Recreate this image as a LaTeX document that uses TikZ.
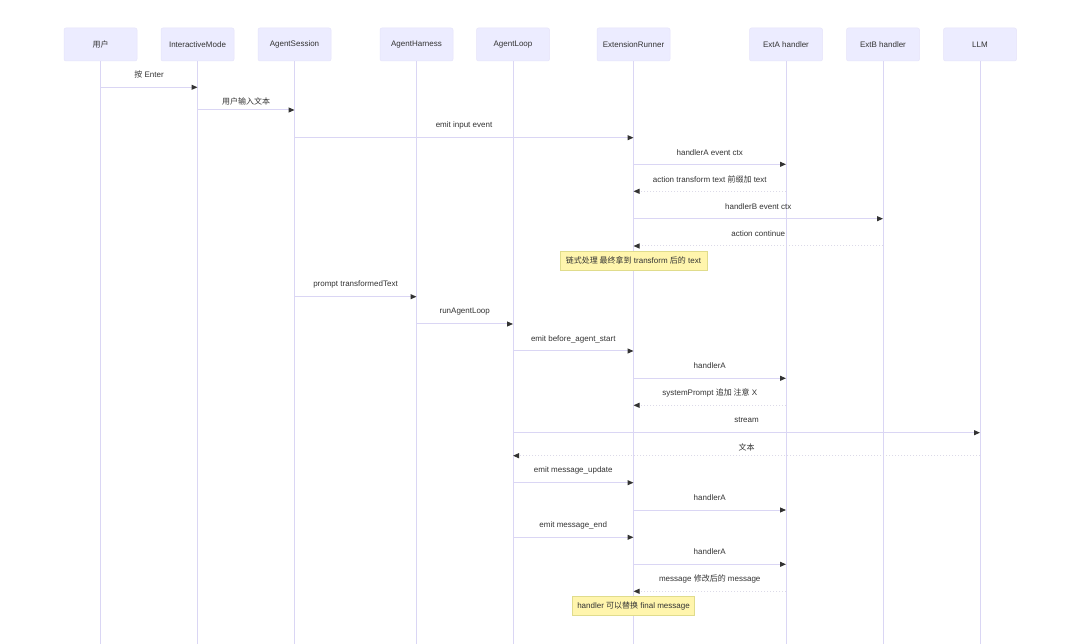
\documentclass[tikz,border=0pt]{standalone}
\usepackage{fontspec}
\setmainfont{Liberation Sans}
\newfontfamily\cjk{Noto Sans CJK SC}
\usetikzlibrary{arrows.meta}
\definecolor{actfill}{HTML}{ECECFF}
\definecolor{actdraw}{HTML}{E6E4FA}
\definecolor{life}{HTML}{DAD6F4}
\definecolor{retc}{HTML}{DCDAE8}
\definecolor{txt}{HTML}{333333}
\definecolor{notefill}{HTML}{FFF5AD}
\definecolor{notedraw}{HTML}{E0DC8C}
\newcommand\seqmsg[6]{%
  \draw[#1] (#2 |- 0,#4) -- (#3 |- 0,#4) coordinate[midway] (tmpmid);
  \node[lbl] at (tmpmid |- 0,#5) {#6};}
\begin{document}
\begin{tikzpicture}[x=1pt,y=-1pt,
  font=\fontsize{8}{9.6}\selectfont, text=txt,
  actor/.style={fill=actfill, draw=actdraw, line width=0.5pt, rounded corners=2pt,
    minimum width=73pt, minimum height=33pt, inner sep=0pt},
  lifeline/.style={draw=life, line width=1pt},
  msg/.style={draw=life, line width=1pt, -{Triangle[length=6pt,width=5pt,color=txt]}},
  ret/.style={msg, draw=retc, dash pattern=on 1.5pt off 1.5pt},
  lbl/.style={inner sep=0pt},
  note/.style={fill=notefill, draw=notedraw, line width=0.6pt, inner sep=0pt}]
\fill[white] (0,0) rectangle (1080,644);
\useasboundingbox (0,0) rectangle (1080,644);

\node[actor] (u)   at (100.5,44.5) {\cjk 用户};
\node[actor] (im)  at (197.5,44.5) {InteractiveMode};
\node[actor] (as)  at (294.5,44.5) {AgentSession};
\node[actor] (ah)  at (416.5,44.5) {AgentHarness};
\node[actor] (al)  at (513,44.5) {AgentLoop};
\node[actor] (er)  at (633.5,44.5) {ExtensionRunner};
\node[actor] (ea)  at (786,44.5) {ExtA handler};
\node[actor] (eb)  at (883,44.5) {ExtB handler};
\node[actor] (llm) at (980,44.5) {LLM};

\foreach \n in {u,im,as,ah,al,er,ea,eb,llm}
  \draw[lifeline] (\n.south) -- (\n |- 0,644);

\seqmsg{msg}{u}{im}{87.3}{74.3}{{\cjk 按} Enter}
\seqmsg{msg}{im}{as}{110}{101.7}{\cjk 用户输入文本}
\seqmsg{msg}{as}{er}{137.7}{125}{emit input event}
\seqmsg{msg}{er}{ea}{164.3}{152.3}{handlerA event ctx}
\seqmsg{ret}{ea}{er}{191.3}{179.3}{action transform text {\cjk 前缀加} text}
\seqmsg{msg}{er}{eb}{218.7}{206.3}{handlerB event ctx}
\seqmsg{ret}{eb}{er}{246}{233.3}{action continue}
\node[note, minimum width=146.7pt, minimum height=18.7pt] (n1) at (633.5,260.7)
  {{\cjk 链式处理 最终拿到} transform {\cjk 后的} text};

\seqmsg{msg}{as}{ah}{296.7}{284.3}{prompt transformedText}
\seqmsg{msg}{ah}{al}{324}{311.7}{runAgentLoop}
\seqmsg{msg}{al}{er}{351}{339}{emit before\_agent\_start}
\seqmsg{msg}{er}{ea}{378.3}{365.7}{handlerA}
\seqmsg{ret}{ea}{er}{405.3}{392.7}{systemPrompt {\cjk 追加 注意} X}
\seqmsg{msg}{al}{llm}{432.7}{420}{stream}
\seqmsg{ret}{llm}{al}{455.7}{447}{\cjk 文本}
\seqmsg{msg}{al}{er}{482.7}{470.3}{emit message\_update}
\seqmsg{msg}{er}{ea}{510}{497.3}{handlerA}
\seqmsg{msg}{al}{er}{537.3}{525}{emit message\_end}
\seqmsg{msg}{er}{ea}{564.3}{552}{handlerA}
\seqmsg{ret}{ea}{er}{591.3}{579}{message {\cjk 修改后的} message}
\node[note, minimum width=122pt, minimum height=19.3pt] (n2) at (633.5,605.7)
  {handler {\cjk 可以替换} final message};
\end{tikzpicture}
\end{document}
